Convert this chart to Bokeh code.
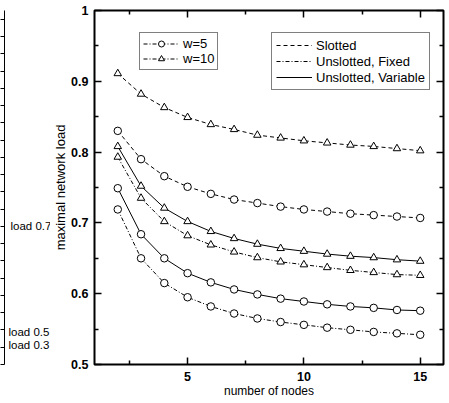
from bokeh.plotting import figure
from bokeh.models import Range1d, LinearAxis, FixedTicker, Legend, LegendItem, Label
from bokeh.layouts import row
from bokeh.embed import file_html
from bokeh.resources import INLINE

# ---------------- data ----------------
nodes = [2, 3, 4, 5, 6, 7, 8, 9, 10, 11, 12, 13, 14, 15]
slotted_w10 = [0.911, 0.882, 0.863, 0.849, 0.839, 0.832, 0.824, 0.820, 0.816, 0.813, 0.810, 0.808, 0.805, 0.802]
slotted_w5 = [0.830, 0.790, 0.766, 0.751, 0.741, 0.733, 0.728, 0.723, 0.719, 0.716, 0.713, 0.711, 0.709, 0.707]
variable_w10 = [0.808, 0.752, 0.721, 0.702, 0.688, 0.678, 0.670, 0.664, 0.660, 0.656, 0.653, 0.651, 0.648, 0.646]
fixed_w10 = [0.793, 0.735, 0.702, 0.682, 0.669, 0.659, 0.651, 0.645, 0.641, 0.637, 0.633, 0.630, 0.627, 0.626]
variable_w5 = [0.749, 0.684, 0.650, 0.629, 0.616, 0.606, 0.599, 0.593, 0.589, 0.585, 0.582, 0.580, 0.577, 0.576]
fixed_w5 = [0.719, 0.650, 0.615, 0.595, 0.582, 0.572, 0.565, 0.560, 0.556, 0.552, 0.549, 0.546, 0.544, 0.542]

x_ticks = [5, 10, 15]
x_minor = [2.5, 7.5, 12.5]
y_ticks = [0.5, 0.6, 0.7, 0.8, 0.9, 1.0]
y_minor = [0.55, 0.65, 0.75, 0.85, 0.95]
y_tick_labels = {0.5: "0.5", 0.6: "0.6", 0.7: "0.7", 0.8: "0.8", 0.9: "0.9", 1.0: "1"}

scheme_names = ["Slotted", "Unslotted, Fixed", "Unslotted, Variable"]
window_names = ["w=5", "w=10"]
side_texts = ["load 0.7", "load 0.5", "load 0.3"]

FONT = "Liberation Sans"

# ---------------- left strip (fragment of neighbouring panel) ----------------
left = figure(width=50, height=403, x_range=Range1d(0, 46), y_range=Range1d(0, 365),
              output_backend="svg", toolbar_location=None,
              x_axis_location=None, y_axis_location=None,
              min_border_left=4, min_border_right=0, min_border_top=0, min_border_bottom=38)
left.outline_line_color = None
left.grid.visible = False
left.background_fill_color = "white"
left.border_fill_color = "white"
strip_ticks = [i * 17.8 for i in range(21)]
strip_axis = LinearAxis(ticker=FixedTicker(ticks=strip_ticks, minor_ticks=[]),
                        major_tick_out=4, major_tick_in=0, minor_tick_out=0, minor_tick_in=0,
                        major_label_text_font_size="1px", major_label_text_color=None,
                        major_label_standoff=0,
                        axis_line_color="black", axis_line_width=1,
                        major_tick_line_color="black", major_tick_line_width=1)
left.add_layout(strip_axis, "left")
for txt, (tx, ty) in zip(side_texts, [(6, 143), (4, 33), (4, 20)]):
    left.add_layout(Label(x=tx, y=ty, text=txt, text_baseline="middle",
                          text_font=FONT, text_font_size="11.5px", text_color="black"))

# ---------------- main chart ----------------
p = figure(width=399, height=403, x_range=Range1d(1, 16), y_range=Range1d(0.5, 1.0),
           output_backend="svg", toolbar_location=None,
           min_border_left=38, min_border_right=6, min_border_top=10, min_border_bottom=39)
p.grid.visible = False
p.outline_line_color = "black"
p.outline_line_width = 2
p.background_fill_color = "white"
p.border_fill_color = "white"

def style_axis(ax, ticks, minor, show_labels):
    ax.ticker = FixedTicker(ticks=ticks, minor_ticks=minor)
    ax.major_tick_in = 7
    ax.major_tick_out = 0
    ax.minor_tick_in = 4
    ax.minor_tick_out = 0
    ax.major_tick_line_width = 1.5
    ax.minor_tick_line_width = 1.5
    ax.major_tick_line_color = "black"
    ax.minor_tick_line_color = "black"
    ax.axis_line_color = None
    if show_labels:
        ax.major_label_text_font = FONT
        ax.major_label_text_font_size = "12.5px"
        ax.major_label_text_font_style = "bold"
        ax.major_label_text_color = "black"
    else:
        ax.major_label_text_font_size = "1px"
        ax.major_label_text_color = None
        ax.major_label_standoff = 0

xa = p.xaxis[0]
style_axis(xa, x_ticks, x_minor, True)
xa.major_label_standoff = 7
xa.axis_label = "number of nodes"
xa.axis_label_standoff = 0
xa.axis_label_text_font = FONT
xa.axis_label_text_font_size = "12px"
xa.axis_label_text_font_style = "normal"
xa.axis_label_text_color = "black"

ya = p.yaxis[0]
style_axis(ya, y_ticks, y_minor, True)
ya.major_label_overrides = y_tick_labels
ya.major_label_standoff = 6
ya.axis_label = "maximal network load"
ya.axis_label_standoff = 0
ya.axis_label_text_font = FONT
ya.axis_label_text_font_size = "13px"
ya.axis_label_text_font_style = "normal"
ya.axis_label_text_color = "black"

top_ax = LinearAxis()
style_axis(top_ax, x_ticks, x_minor, False)
p.add_layout(top_ax, "above")
right_ax = LinearAxis()
style_axis(right_ax, y_ticks, y_minor, False)
p.add_layout(right_ax, "right")

SLOT_DASH = "4 3"
FIX_DASH = "4 2 1 2"

series = [
    (slotted_w10, SLOT_DASH, "triangle"),
    (slotted_w5, SLOT_DASH, "circle"),
    (variable_w10, "solid", "triangle"),
    (fixed_w10, FIX_DASH, "triangle"),
    (variable_w5, "solid", "circle"),
    (fixed_w5, FIX_DASH, "circle"),
]
lines = []
marks = []
for ys, dash, marker in series:
    lr = p.line(nodes, ys, line_color="black", line_width=1, line_dash=dash)
    mr = p.scatter(nodes, ys, marker=marker, size=7.5, fill_color="white",
                   line_color="black", line_width=1)
    lines.append(lr)
    marks.append(mr)

legend_font = dict(label_text_font=FONT, label_text_font_size="13px", label_text_color="black")

leg_w = Legend(items=[LegendItem(label=window_names[0], renderers=[lines[5], marks[5]]),
                      LegendItem(label=window_names[1], renderers=[lines[3], marks[3]])],
               location=(45, 294), orientation="vertical",
               border_line_color="black", border_line_width=1, background_fill_alpha=1,
               padding=3, spacing=0, margin=0, label_height=15, glyph_height=15,
               glyph_width=36, label_standoff=4, **legend_font)
leg_s = Legend(items=[LegendItem(label=scheme_names[0], renderers=[lines[0]]),
                      LegendItem(label=scheme_names[1], renderers=[lines[3]]),
                      LegendItem(label=scheme_names[2], renderers=[lines[2]])],
               location=(177, 274), orientation="vertical",
               border_line_color="black", border_line_width=1, background_fill_alpha=1,
               padding=4, spacing=0, margin=0, label_height=16, glyph_height=16,
               glyph_width=36, label_standoff=4, **legend_font)
p.add_layout(leg_w, "center")
p.add_layout(leg_s, "center")

layout = row(left, p)
open("out.html", "w").write(file_html(layout, INLINE))
